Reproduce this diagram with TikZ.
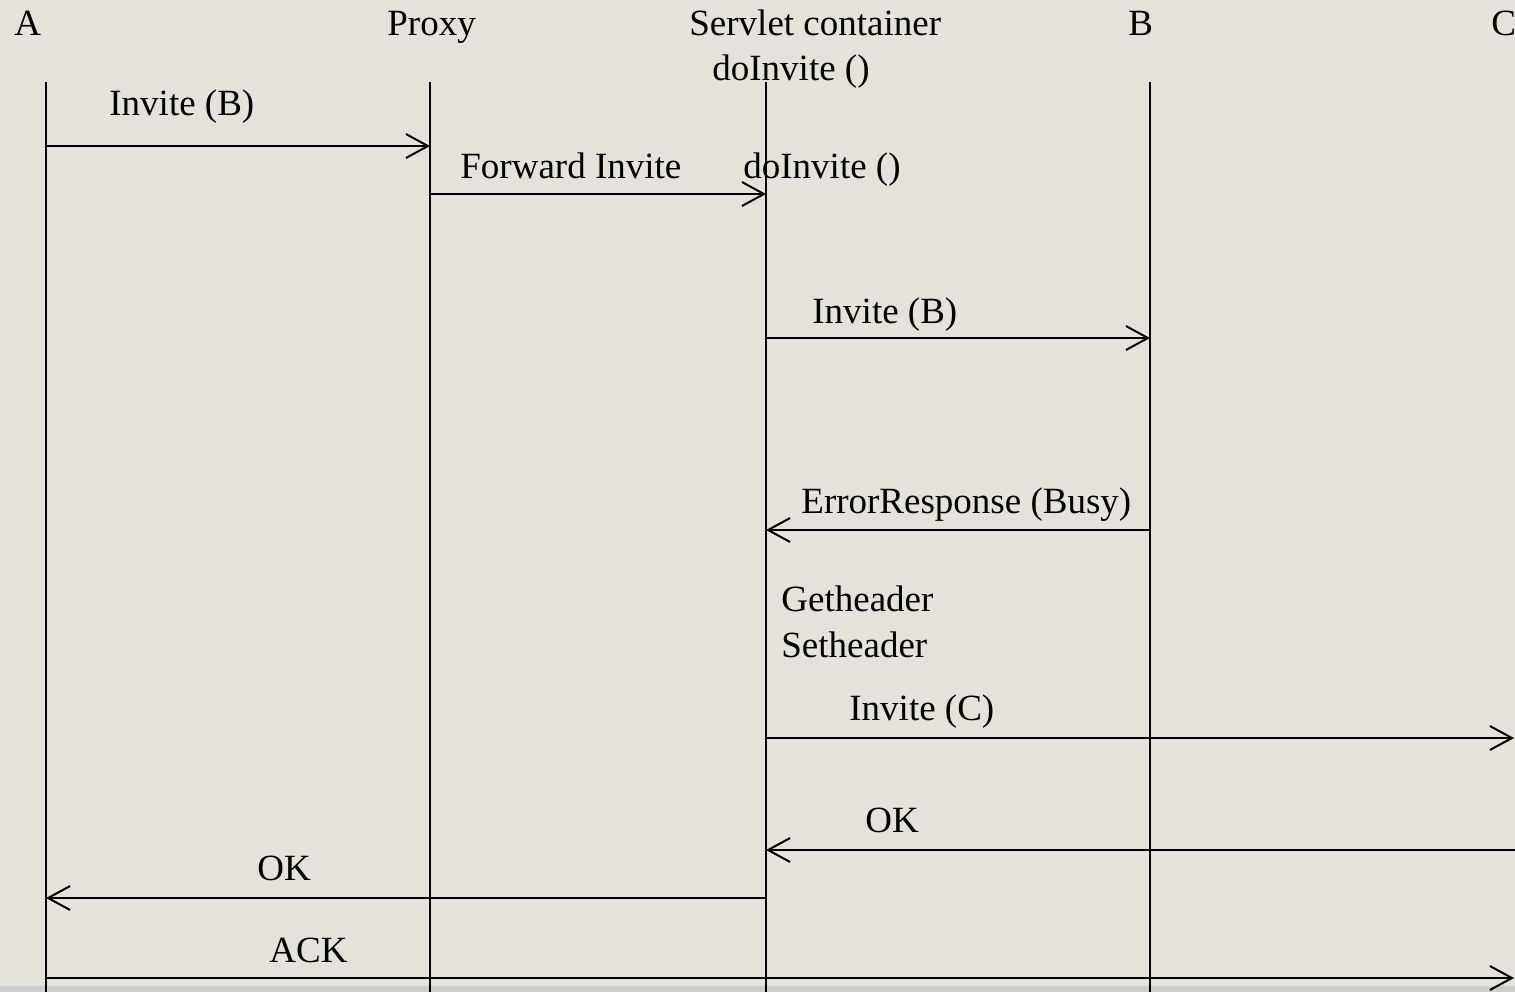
\documentclass[tikz,border=0pt]{standalone}
\usepackage{fontspec}
\setmainfont{Liberation Serif}
\usetikzlibrary{arrows.meta}
\definecolor{paper}{HTML}{E4E2DA}
\definecolor{strip}{HTML}{CDCDCD}
\tikzset{
  lbl/.style={inner sep=0pt, anchor=base west, font=\fontsize{18.5}{22}\selectfont},
  life/.style={line width=1pt, black},
  msg/.style={line width=1pt, black, -{Straight Barb[length=11pt,width=12pt,line width=1pt]}},
}
\begin{document}
\begin{tikzpicture}[x=0.5pt,y=-0.5pt]
  \useasboundingbox (0,0) rectangle (1515,992);
  \clip (0,0) rectangle (1515,992);
  \fill[paper] (0,0) rectangle (1515,992);
  \fill[strip] (0,986) rectangle (1515,992);

  % lifelines
  \coordinate (A0) at (46,82);    \coordinate (A1) at (46,992);
  \coordinate (P0) at (430,82);   \coordinate (P1) at (430,992);
  \coordinate (S0) at (766,82);   \coordinate (S1) at (766,992);
  \coordinate (B0) at (1150,82);  \coordinate (B1) at (1150,992);
  \draw[life] (A0) -- (A1);
  \draw[life] (P0) -- (P1);
  \draw[life] (S0) -- (S1);
  \draw[life] (B0) -- (B1);

  % participant names
  \node[lbl] (tA) at (14,35) {A};
  \node[lbl] (tP) at (387,35) {Proxy};
  \node[lbl] (tS) at (689,35) {Servlet container};
  \node[lbl] (tB) at (1128,35) {B};
  \node[lbl] (tC) at (1491,35) {C};
  \node[lbl] (tDo1) at (712,80) {doInvite ()};

  % message end points
  \coordinate (m1a) at (46,146);   \coordinate (m1b) at (430,146);
  \coordinate (m2a) at (430,194);  \coordinate (m2b) at (766,194);
  \coordinate (m3a) at (766,338);  \coordinate (m3b) at (1150,338);
  \coordinate (m4a) at (1150,530); \coordinate (m4b) at (766,530);
  \coordinate (m5a) at (766,738);  \coordinate (m5b) at (1514,738);
  \coordinate (m6a) at (1515,850); \coordinate (m6b) at (766,850);
  \coordinate (m7a) at (766,898);  \coordinate (m7b) at (46,898);
  \coordinate (m8a) at (46,978);   \coordinate (m8b) at (1514,978);

  \draw[msg] (m1a) -- (m1b);
  \draw[msg] (m2a) -- (m2b);
  \draw[msg] (m3a) -- (m3b);
  \draw[msg] (m4a) -- (m4b);
  \draw[msg] (m5a) -- (m5b);
  \draw[msg] (m6a) -- (m6b);
  \draw[msg] (m7a) -- (m7b);
  \draw[msg] (m8a) -- (m8b);

  % message labels
  \node[lbl] (l1) at (109,115) {Invite (B)};
  \node[lbl] (l2) at (460,178) {Forward Invite};
  \node[lbl] (l2b) at (743,178) {doInvite ()};
  \node[lbl] (l3) at (812,323) {Invite (B)};
  \node[lbl] (l4) at (801,513) {ErrorResponse (Busy)};
  \node[lbl] (g1) at (781,611) {Getheader};
  \node[lbl] (g2) at (781,657) {Setheader};
  \node[lbl] (l5) at (849,720) {Invite (C)};
  \node[lbl] (l6) at (865,832) {OK};
  \node[lbl] (l7) at (257,880) {OK};
  \node[lbl] (l8) at (269,962) {ACK};
\end{tikzpicture}
\end{document}
